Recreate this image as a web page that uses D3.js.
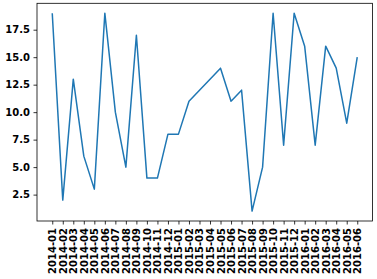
<!DOCTYPE html>
<html>
<head>
<meta charset="utf-8">
<script src="https://cdn.jsdelivr.net/npm/d3@7"></script>
<style>
  body { margin: 0; background: #fff; }
  text { font-family: "DejaVu Sans", sans-serif; font-weight: bold; font-size: 10px; fill: #000; }
</style>
</head>
<body>
<div class="chart"></div>
<script>
const w = 377;
const h = 279;

const months = [
  '2014-01', '2014-02', '2014-03', '2014-04', '2014-05', '2014-06',
  '2014-07', '2014-08', '2014-09', '2014-10', '2014-11', '2014-12',
  '2015-01', '2015-02', '2015-03', '2015-04', '2015-05', '2015-06',
  '2015-07', '2015-08', '2015-09', '2015-10', '2015-11', '2015-12',
  '2016-01', '2016-02', '2016-03', '2016-04', '2016-05', '2016-06'
];
const values = [
  19, 2, 13, 6, 3, 19, 10, 5, 17, 4, 4, 8,
  8, 11, 12, 13, 14, 11, 12, 1, 5, 19, 7, 19,
  16, 7, 16, 14, 9, 15
];
const yTicks = [2.5, 5.0, 7.5, 10.0, 12.5, 15.0, 17.5];

const padLeft = 37, padRight = 372.5, padTop = 3.3, padBottom = 221;

const svg = d3.select('.chart')
  .append('svg')
  .attr('width', w)
  .attr('height', h);

// x is an index scale with matplotlib's 5% margins
const xScale = d3.scaleLinear()
  .domain([-0.05 * (months.length - 1), (months.length - 1) * 1.05])
  .range([padLeft, padRight]);

const yMin = d3.min(values), yMax = d3.max(values);
const pad = (yMax - yMin) * 0.05;
const yScale = d3.scaleLinear()
  .domain([yMin - pad, yMax + pad])
  .range([padBottom, padTop]);

// line
const line = d3.line()
  .x((d, i) => xScale(i))
  .y((d) => yScale(d));

svg.append('path')
  .datum(values)
  .attr('fill', 'none')
  .attr('stroke', '#1f77b4')
  .attr('stroke-width', 1.5)
  .attr('stroke-linejoin', 'round')
  .attr('d', line);

// bottom axis
const xAxis = d3.axisBottom(xScale)
  .tickValues(d3.range(months.length))
  .tickFormat((i) => months[i])
  .tickSizeOuter(0)
  .tickSize(3.5)
  .tickPadding(3.5);

const gx = svg.append('g')
  .attr('transform', `translate(0,${padBottom})`)
  .call(xAxis);
gx.select('.domain').remove();
gx.selectAll('line').attr('stroke', '#000').attr('stroke-width', 0.8);
gx.selectAll('text')
  .attr('transform', 'rotate(-90)')
  .attr('x', -7)
  .attr('y', 0)
  .attr('dy', '0.35em')
  .style('text-anchor', 'end')
  .style('font-family', 'DejaVu Sans')
  .style('font-weight', 'bold')
  .style('font-size', '10px');

// left axis
const yAxis = d3.axisLeft(yScale)
  .tickValues(yTicks)
  .tickFormat(d3.format('.1f'))
  .tickSizeOuter(0)
  .tickSize(3.5)
  .tickPadding(3.5);

const gy = svg.append('g')
  .attr('transform', `translate(${padLeft},0)`)
  .call(yAxis);
gy.select('.domain').remove();
gy.selectAll('line').attr('stroke', '#000').attr('stroke-width', 0.8);
gy.selectAll('text')
  .style('font-family', 'DejaVu Sans')
  .style('font-weight', 'bold')
  .style('font-size', '10px');

// frame
svg.append('rect')
  .attr('x', padLeft)
  .attr('y', padTop)
  .attr('width', padRight - padLeft)
  .attr('height', padBottom - padTop)
  .attr('fill', 'none')
  .attr('stroke', '#000')
  .attr('stroke-width', 0.8);
</script>
</body>
</html>
